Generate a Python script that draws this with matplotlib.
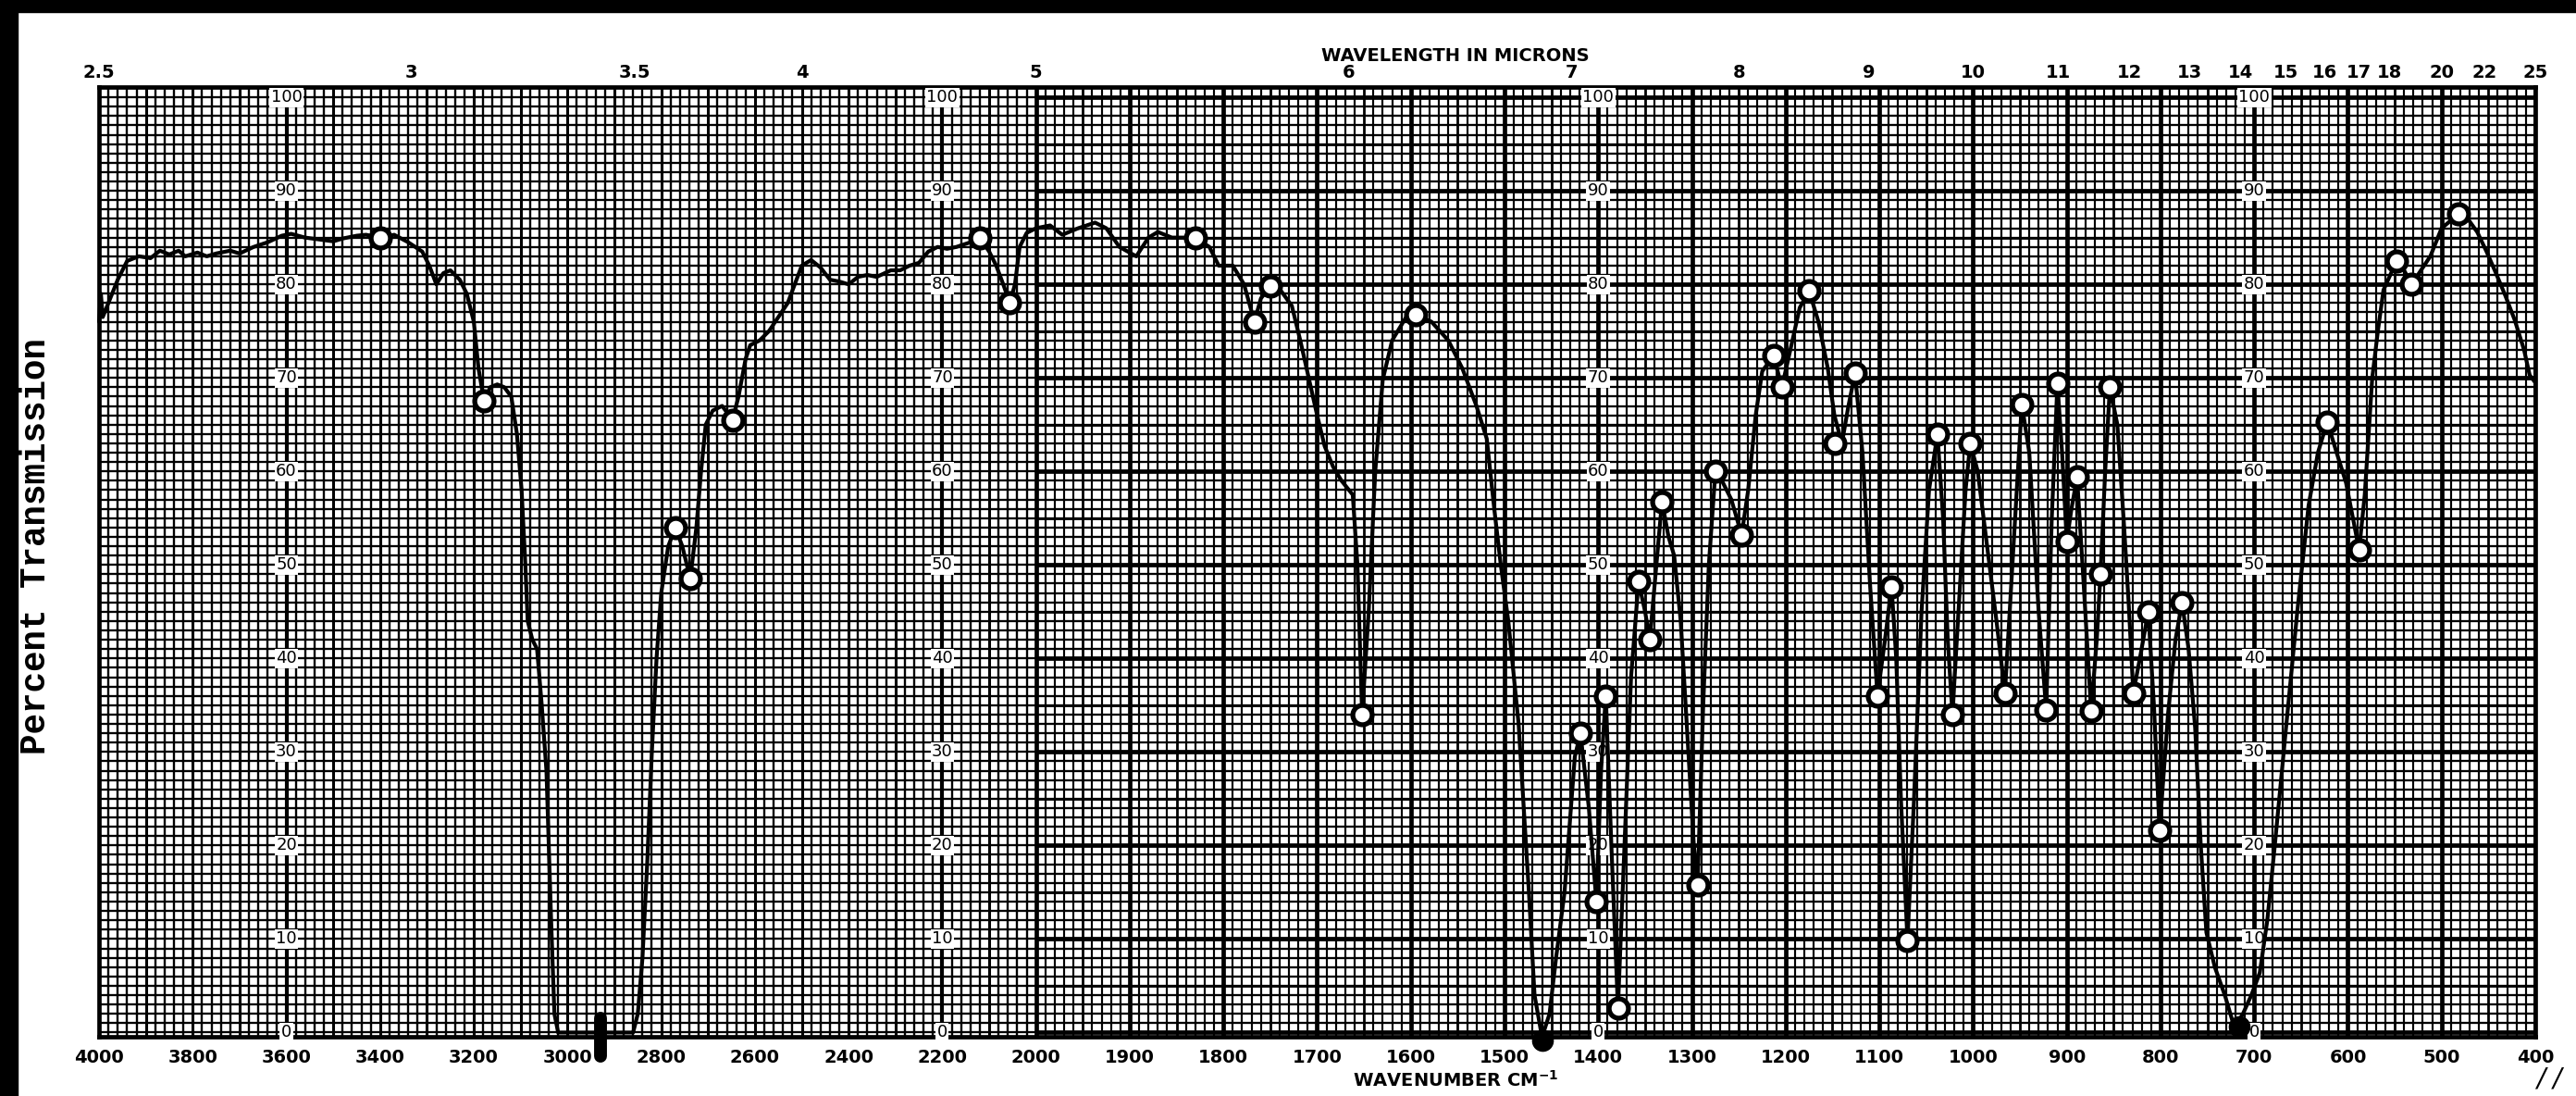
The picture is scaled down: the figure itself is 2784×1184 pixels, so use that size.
import numpy as np
import matplotlib
matplotlib.use("Agg")
import matplotlib.pyplot as plt
from matplotlib.patches import Rectangle

# ---------------- data ----------------
wavenumber = [4000, 3996, 3992, 3980, 3960, 3940, 3915, 3890, 3870, 3850, 3830, 3816,
              3790, 3770, 3750, 3720, 3700, 3670, 3640, 3610, 3590, 3560, 3530, 3500,
              3480, 3450, 3430, 3400, 3370, 3340, 3310, 3295, 3280, 3265, 3250, 3230,
              3215, 3200, 3190, 3178, 3165, 3150, 3135, 3120, 3108, 3098, 3090, 3085,
              3075, 3065, 3055, 3045, 3035, 3028, 3020, 2950, 2860, 2850, 2840, 2830,
              2820, 2810, 2800, 2785, 2770, 2755, 2738, 2725, 2715, 2705, 2690, 2670,
              2648, 2635, 2620, 2610, 2590, 2570, 2550, 2530, 2515, 2500, 2480, 2460,
              2440, 2420, 2400, 2380, 2360, 2340, 2310, 2290, 2270, 2250, 2230, 2210,
              2190, 2170, 2140, 2120, 2100, 2085, 2070, 2056, 2045, 2035, 2020, 2000,
              1985, 1972, 1955, 1937, 1925, 1911, 1893, 1880, 1870, 1855, 1840, 1830,
              1815, 1805, 1790, 1778, 1767, 1760, 1750, 1740, 1727, 1718, 1709, 1700,
              1692, 1683, 1674, 1662, 1657, 1652, 1645, 1638, 1630, 1620, 1605, 1595,
              1578, 1560, 1545, 1530, 1519, 1511, 1504, 1496, 1485, 1474, 1468, 1460,
              1452, 1445, 1436, 1425, 1419, 1410, 1402, 1397, 1392, 1386, 1379, 1372,
              1365, 1357, 1350, 1345, 1338, 1332, 1325, 1319, 1312, 1305, 1298, 1294,
              1288, 1282, 1275, 1268, 1258, 1247, 1240, 1232, 1225, 1213, 1204, 1195,
              1185, 1175, 1165, 1155, 1148, 1140, 1133, 1126, 1118, 1110, 1102, 1094,
              1087, 1082, 1077, 1070, 1063, 1055, 1047, 1038, 1032, 1027, 1022, 1015,
              1008, 1003, 995, 985, 975, 966, 958, 948, 940, 930, 922, 916, 910, 905,
              900, 895, 889, 882, 874, 868, 864, 859, 854, 846, 839, 834, 829, 822,
              813, 807, 801, 792, 784, 777, 770, 763, 757, 751, 742, 731, 721, 712,
              703, 694, 686, 678, 666, 654, 642, 632, 622, 612, 602, 588, 582, 574,
              568, 562, 548, 540, 532, 522, 512, 500, 482, 472, 462, 452, 442, 432,
              422, 412, 406, 400]
transmission = [76.0, 79.0, 76.5, 78.0, 80.5, 82.5, 83.0, 82.8, 83.6, 83.2, 83.6, 83.0,
                83.4, 83.0, 83.3, 83.6, 83.3, 84.0, 84.5, 85.2, 85.4, 85.0, 84.8, 84.6,
                84.9, 85.2, 85.3, 85.0, 85.3, 84.5, 83.5, 82.0, 80.0, 81.2, 81.5, 80.5,
                79.0, 76.0, 71.0, 67.5, 69.0, 69.3, 69.0, 68.0, 64.0, 58.0, 50.0, 44.0,
                42.0, 41.0, 35.0, 28.0, 12.0, 2.0, 0.0, 0.0, 0.0, 2.0, 8.0, 18.0,
                30.0, 40.0, 47.0, 52.0, 54.0, 52.0, 48.5, 54.0, 60.0, 65.0, 66.5, 67.0,
                65.5, 68.0, 72.0, 73.5, 74.0, 75.0, 76.5, 78.0, 80.0, 82.0, 82.6, 81.8,
                80.5, 80.3, 80.0, 80.8, 81.0, 80.8, 81.5, 81.5, 82.0, 82.3, 83.5, 84.0,
                83.8, 84.0, 84.5, 85.0, 83.5, 82.0, 80.0, 78.0, 80.0, 84.0, 85.5, 86.0,
                86.3, 85.3, 86.0, 86.6, 86.0, 84.0, 83.0, 85.0, 85.6, 85.0, 85.0, 85.0,
                84.0, 82.0, 82.0, 80.0, 76.0, 78.5, 79.8, 79.5, 77.7, 74.0, 70.0, 66.0,
                62.7, 60.5, 59.0, 57.5, 50.0, 34.0, 45.0, 60.0, 69.8, 74.0, 76.5, 76.8,
                76.0, 74.0, 71.0, 67.0, 63.5, 56.0, 50.0, 44.0, 33.0, 15.0, 4.0, -0.5,
                2.0, 8.0, 15.0, 29.5, 32.0, 24.0, 14.0, 28.0, 36.0, 20.0, 2.6, 20.0,
                38.0, 48.2, 45.0, 42.0, 50.0, 56.8, 53.0, 51.0, 44.0, 32.0, 20.0, 15.8,
                35.0, 50.0, 60.0, 59.0, 57.0, 53.2, 58.0, 66.0, 70.7, 72.4, 69.0, 73.0,
                77.5, 79.3, 76.0, 71.0, 66.0, 63.0, 67.0, 70.5, 62.0, 48.0, 36.0, 42.0,
                47.7, 40.0, 25.0, 9.8, 25.0, 45.0, 58.0, 64.0, 55.0, 42.0, 34.0, 46.0,
                58.0, 63.0, 60.0, 52.0, 44.0, 36.3, 50.0, 67.2, 62.0, 45.0, 34.5, 55.0,
                69.4, 62.0, 52.5, 56.0, 59.4, 48.0, 34.4, 42.0, 49.0, 60.0, 69.0, 65.0,
                54.4, 46.0, 36.3, 40.0, 45.0, 35.0, 21.6, 34.0, 42.0, 46.0, 41.0, 32.6,
                20.0, 10.7, 7.0, 3.9, 0.5, 2.0, 4.0, 6.4, 12.0, 20.0, 32.6, 45.0,
                56.3, 62.0, 65.3, 62.0, 58.8, 51.6, 57.5, 70.0, 75.0, 79.4, 82.5, 81.5,
                80.0, 81.5, 83.0, 86.0, 87.5, 87.0, 85.6, 83.5, 81.2, 78.8, 76.2, 73.0,
                70.3, 69.5]

circle_wn = [3400, 3178, 2770, 2738, 2648, 2120, 2056, 1830, 1767, 1750, 1652, 1595,
             1419, 1402, 1392, 1379, 1357, 1345, 1332, 1294, 1275, 1247, 1213, 1204,
             1175, 1148, 1126, 1102, 1087, 1070, 1038, 1022, 1003, 966, 948, 922, 910,
             900, 889, 874, 864, 854, 829, 813, 801, 777, 622, 588, 548, 532, 482]
circle_pct = [85.0, 67.5, 54.0, 48.5, 65.5, 85.0, 78.0, 85.0, 76.0, 79.8, 34.0, 76.8,
              32.0, 14.0, 36.0, 2.6, 48.2, 42.0, 56.8, 15.8, 60.0, 53.2, 72.4, 69.0,
              79.3, 63.0, 70.5, 36.0, 47.7, 9.8, 64.0, 34.0, 63.0, 36.3, 67.2, 34.5, 69.4,
              52.5, 59.4, 34.4, 49.0, 69.0, 36.3, 45.0, 21.6, 46.0, 65.3, 51.6, 82.5, 80.0, 87.5]

filled_wn = [1460, 716]
filled_pct = [-0.8, 0.6]
saturated_wn = [2930, 2930]
saturated_pct = [-2.5, 1.5]

bottom_ticks = [4000, 3800, 3600, 3400, 3200, 3000, 2800, 2600, 2400, 2200, 2000,
                1900, 1800, 1700, 1600, 1500, 1400, 1300, 1200, 1100, 1000, 900, 800,
                700, 600, 500, 400]
top_microns = [2.5, 3, 3.5, 4, 5, 6, 7, 8, 9, 10, 11, 12, 13, 14, 15, 16, 17, 18, 20, 22, 25]
top_labels = ["2.5", "3", "3.5", "4", "5", "6", "7", "8", "9", "10", "11", "12", "13",
              "14", "15", "16", "17", "18", "20", "22", "25"]
pct_ticks = [0, 10, 20, 30, 40, 50, 60, 70, 80, 90, 100]
label_columns = [3600, 2200, 1400, 700]


# ---------------- scale: 4000-2000 compressed 2x ----------------
def fwd(w):
    w = np.asarray(w, dtype=float)
    return np.where(w <= 2000, w, 2000 + (w - 2000) / 2.0)


def inv(v):
    v = np.asarray(v, dtype=float)
    return np.where(v <= 2000, v, 2000 + (v - 2000) * 2.0)


W, H = 2784, 1184
fig = plt.figure(figsize=(W / 100, H / 100), dpi=100)
fig.patch.set_facecolor("white")

L, R, T, B = 107, 2740, 94, 1120
ax = fig.add_axes([L / W, 1 - B / H, (R - L) / W, (B - T) / H])
ax.set_xscale("function", functions=(fwd, inv))
ax.set_xlim(4000, 400)
ax.set_ylim(-0.45, 101.1)
ax.set_facecolor("white")

# ---------------- chart-paper grid ----------------
gkw = dict(color="black", zorder=1)
for w in range(4000, 2000, -20):
    lw = 1.7
    if w % 100 == 0:
        lw = 2.2
    if w in label_columns:
        lw = 3.0
    ax.axvline(w, lw=lw, **gkw)
for w in range(2000, 399, -10):
    lw = 1.55
    if w % 50 == 0:
        lw = 2.0
    if w % 100 == 0:
        lw = 3.4
    ax.axvline(w, lw=lw, **gkw)
for p in range(0, 101):
    ax.axhline(p, lw=1.65, **gkw)
for p in range(0, 101, 10):
    ax.hlines(p, 2000, 400, lw=3.4, **gkw)
for p in range(5, 100, 10):
    ax.hlines(p, 2000, 400, lw=2.0, **gkw)

# percent labels in the chart columns
for col in label_columns:
    for p in pct_ticks:
        ax.text(col, p, str(p), ha="center", va="center", fontsize=13,
                color="black", zorder=3,
                bbox=dict(boxstyle="square,pad=0.08", fc="white", ec="none"))

# ---------------- spectrum ----------------
ax.plot(wavenumber, transmission, color="black", lw=3.0, zorder=5,
        solid_joinstyle="round", solid_capstyle="round", clip_on=False)
ax.plot(circle_wn, circle_pct, "o", ms=15, mfc="white", mec="black", mew=3.8,
        zorder=6, clip_on=False)
ax.plot(filled_wn, filled_pct, "o", ms=16, color="black", zorder=7, clip_on=False)
ax.plot(saturated_wn, saturated_pct, color="black", lw=10, solid_capstyle="round",
        zorder=7, clip_on=False)

# ---------------- axes / labels ----------------
for s in ax.spines.values():
    s.set_linewidth(3.4)
    s.set_color("black")
ax.set_yticks([])
ax.set_xticks(bottom_ticks)
tick_font = ["Liberation Sans Narrow", "DejaVu Sans"]
ax.set_xticklabels([str(t) for t in bottom_ticks], fontsize=14, fontweight="bold",
                   family=tick_font)
ax.tick_params(axis="x", length=0, pad=9)
ax.xaxis.set_minor_locator(matplotlib.ticker.NullLocator())

ax2 = ax.twiny()
ax2.set_xscale("function", functions=(fwd, inv))
ax2.set_xlim(4000, 400)
ax2.set_xticks([1e4 / m for m in top_microns])
ax2.set_xticklabels(top_labels, fontsize=14, fontweight="bold", family=tick_font)
ax2.tick_params(axis="x", length=0, pad=4)
ax2.xaxis.set_minor_locator(matplotlib.ticker.NullLocator())
for s in ax2.spines.values():
    s.set_visible(False)

fig.text(1573 / W, 1 - 60 / H, "WAVELENGTH IN MICRONS", ha="center", va="center",
         fontsize=14, fontweight="bold", family=tick_font)
fig.text(1573 / W, 1 - 1167 / H, "WAVENUMBER CM$^{\\mathbf{-1}}$", ha="center",
         va="center", fontsize=14, fontweight="bold", family=tick_font)
fig.text(39 / W, 1 - 590 / H, "Percent Transmission", rotation=90, ha="center",
         va="center", fontsize=27, family=["Liberation Mono", "DejaVu Sans Mono"],
         fontweight="bold")
fig.text(2755 / W, 1 - 1166 / H, "/ /", ha="center", va="center", fontsize=20,
         style="italic", color="black")

# scanner borders
fig.patches.append(Rectangle((0, 1 - 13 / H), 1, 13 / H, transform=fig.transFigure,
                             color="black", zorder=10))
fig.patches.append(Rectangle((0, 0), 19 / W, 1, transform=fig.transFigure,
                             color="black", zorder=10))

fig.savefig("out.png", dpi=100, facecolor="white")
